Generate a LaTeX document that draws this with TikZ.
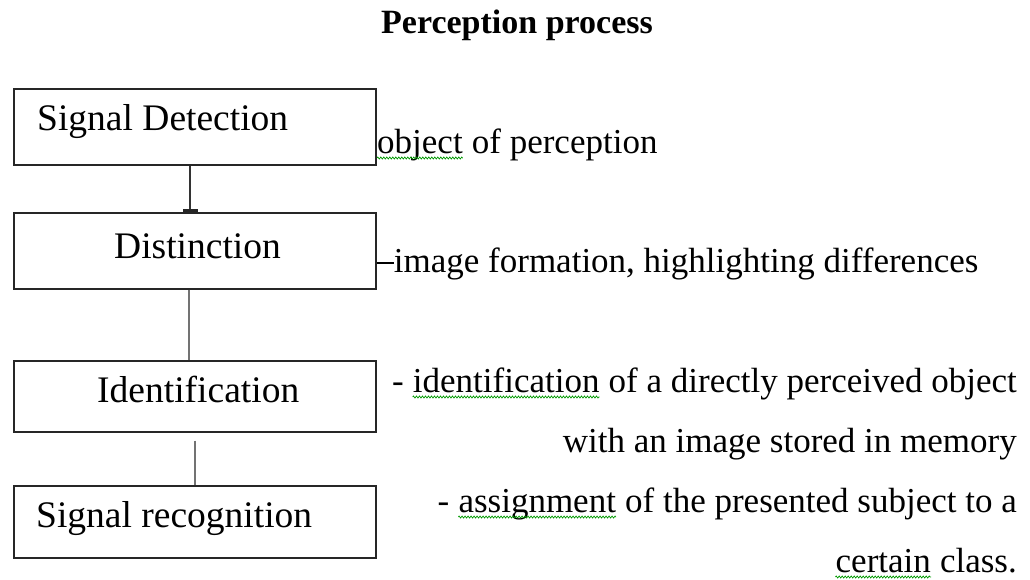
\documentclass[tikz,border=0pt]{standalone}
\usepackage{fontspec}
\setmainfont{Liberation Serif}
\usetikzlibrary{calc,decorations.pathmorphing}

\begin{document}
\begin{tikzpicture}[x=1pt,y=-1pt,
  box/.style={draw=black!85, line width=1.4pt, minimum width=362pt, inner sep=0pt},
  boxtext/.style={font=\fontsize{37.5}{44}\selectfont, inner sep=0pt},
  note/.style={font=\fontsize{35}{42}\selectfont, inner sep=0pt},
  link/.style={line width=1.4pt, draw=black!80},
  softlink/.style={line width=1.4pt, draw=black!55},
  spell/.style={draw=green!60!black, line width=0.7pt,
    decorate, decoration={zigzag, segment length=3pt, amplitude=1pt}},
]
\useasboundingbox (0,0) rectangle (1030,579);

% title
\node[font=\bfseries\fontsize{34}{40}\selectfont, anchor=base, inner sep=0pt] (title) at (517,33) {Perception process};

% the four stages
\node[box, minimum height=76pt] (det)   at (195,127)   {};
\node[box, minimum height=76pt] (dist)  at (195,251)   {};
\node[box, minimum height=71pt] (ident) at (195,396.5) {};
\node[box, minimum height=72pt] (recog) at (195,522)   {};

\node[boxtext, anchor=base west] (detlbl)   at (37,130)  {Signal Detection};
\node[boxtext, anchor=base west] (distlbl)  at (114,258) {Distinction};
\node[boxtext, anchor=base west] (identlbl) at (97,402)  {Identification};
\node[boxtext, anchor=base west] (recoglbl) at (36,527)  {Signal recognition};

% connectors between the stages
\draw[link] ($(det.south)+(-5,0)$) -- ($(dist.north)+(-5,0)$);
\fill[black!85] ($(dist.north)+(-12,-3)$) rectangle ($(dist.north)+(3,0)$);
\draw[softlink] ($(dist.south)+(-6,0)$) -- ($(ident.north)+(-6,0)$);
\coordinate (gap) at ($(ident.south)+(0,8)$);
\draw[softlink] (gap) -- (recog.north);

% explanations on the right
\node[note, anchor=base west] (w1) at (377,153) {object};
\node[note, anchor=base west] (n1) at (w1.base east) {\ of perception};

\draw[line width=1.2pt] ($(dist.east)+(0,12)$) -- ++(17,0) coordinate (dashend);
\node[note, anchor=base west] (n2) at (dashend |- 0,272) {image formation, highlighting differences};

\node[note, anchor=base east] (n3) at (1017,392) {\ of a directly perceived object};
\node[note, anchor=base east] (w3) at (n3.base west) {identification};
\node[note, anchor=base east] (d3) at (w3.base west) {-\ \null};

\node[note, anchor=base east] (n4) at (1017,452) {with an image stored in memory};

\node[note, anchor=base east] (n5) at (1017,512) {\ of the presented subject to a};
\node[note, anchor=base east] (w5) at (n5.base west) {assignment};
\node[note, anchor=base east] (d5) at (w5.base west) {-\ \null};

\node[note, anchor=base east] (n6) at (1017,572) {\ class.};
\node[note, anchor=base east] (w6) at (n6.base west) {certain};

% wavy marks under single words
\foreach \w in {w1,w3,w5,w6}
  \draw[spell] ($(\w.base west)+(0,5)$) -- ($(\w.base east)+(0,5)$);
\end{tikzpicture}
\end{document}
